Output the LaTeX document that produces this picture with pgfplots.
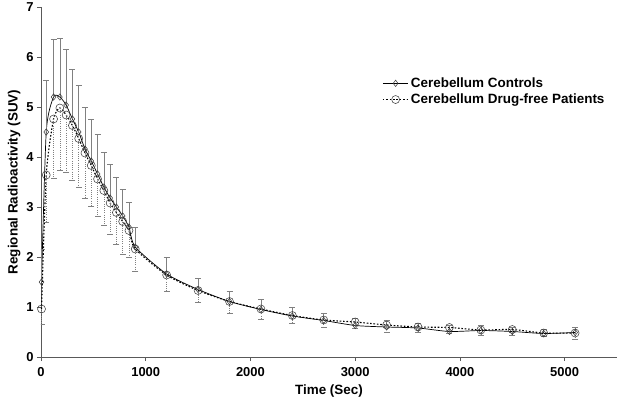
\documentclass[border=0pt]{standalone}
\usepackage{fontspec}
\setmainfont{Liberation Sans}
\usepackage{pgfplots}
\usepackage{pgfplotstable}
\pgfplotsset{compat=1.18}
\pgfplotstableread{
t y e
5 1.50 0.65
50 4.50 1.03
120 5.20 1.15
180 5.20 1.17
240 5.04 1.11
300 4.76 0.99
360 4.50 0.93
420 4.16 0.84
480 3.92 0.83
540 3.66 0.79
600 3.40 0.69
660 3.18 0.67
720 3.00 0.59
780 2.82 0.53
840 2.60 0.50
900 2.20 0.40
1200 1.66 0.33
1500 1.35 0.22
1800 1.11 0.20
2100 0.95 0.20
2400 0.82 0.17
2700 0.73 0.14
3000 0.63 0.14
3300 0.60 0.13
3600 0.58 0.10
3900 0.51 0.13
4200 0.53 0.10
4500 0.51 0.09
4800 0.47 0.09
5100 0.49 0.10
}\controls
\pgfplotstableread{
t y e
5 0.96 0.30
50 3.64 0.94
120 4.76 1.18
180 4.98 1.25
240 4.84 1.14
300 4.63 1.10
360 4.37 0.98
420 4.08 0.90
480 3.83 0.82
540 3.56 0.75
600 3.33 0.70
660 3.08 0.62
720 2.89 0.63
780 2.71 0.65
840 2.53 0.54
900 2.16 0.45
1200 1.64 0.33
1500 1.33 0.24
1800 1.11 0.23
2100 0.96 0.20
2400 0.83 0.15
2700 0.74 0.15
3000 0.70 0.13
3300 0.64 0.15
3600 0.60 0.11
3900 0.59 0.11
4200 0.54 0.11
4500 0.55 0.11
4800 0.48 0.07
5100 0.48 0.12
}\patients
\begin{document}
\begin{tikzpicture}
\useasboundingbox (-41bp,-45bp) rectangle (578bp,357bp);
\begin{axis}[
  scale only axis,
  width=576bp, height=350bp,
  xmin=0, xmax=5500, ymin=0, ymax=7,
  axis x line=bottom, axis y line=left,
  axis line style={-, gray!70!black, line width=0.8pt},
  tick style={gray!70!black, line width=0.8pt},
  tick align=outside,
  major tick length=4bp,
  xtick={0,1000,2000,3000,4000,5000},
  ytick={0,1,2,3,4,5,6,7},
  scaled x ticks=false,
  /pgf/number format/assume math mode=true,
  /pgf/number format/set thousands separator={},
  ticklabel style={font=\fontsize{13}{15}\selectfont\bfseries},
  xticklabel style={yshift=-3bp},
  xlabel={Time (Sec)},
  ylabel={Regional Radioactivity (SUV)},
  label style={font=\fontsize{13.5}{15}\selectfont\bfseries},
  xlabel style={yshift=-1bp},
  ylabel style={yshift=-1bp},
  legend style={draw=none, fill=none, at={(0.587,0.81)}, anchor=north west,
    font=\fontsize{13.5}{16}\selectfont\bfseries, row sep=1bp,
    legend cell align=left},
  legend image code/.code={\draw[mark repeat=2,mark phase=2,#1] plot coordinates {(0cm,0cm) (0.45cm,0cm) (0.9cm,0cm)};},
]
\addplot[black, line width=0.7pt, smooth, tension=0.4,
  mark=diamond, mark size=3.2bp, mark options={solid, fill=white, draw=black!80, line width=0.5pt},
  error bars/.cd, y dir=plus, y explicit,
  error bar style={gray, line width=0.6pt, solid},
  error mark options={gray, line width=0.6pt, mark size=3bp, rotate=90}]
  table[x=t, y=y, y error plus=e] {\controls};
\addlegendentry{Cerebellum Controls}
\addplot[black, line width=1.1pt, dash pattern=on 1.6pt off 1.8pt, smooth, tension=0.4,
  mark=o, mark size=4bp, mark options={solid, fill=none, draw=black!75, line width=0.55pt},
  error bars/.cd, y dir=minus, y explicit,
  error bar style={gray, line width=0.6pt, dash pattern=on 1pt off 1.2pt},
  error mark options={gray, line width=0.6pt, mark size=3bp, rotate=90, solid}]
  table[x=t, y=y, y error minus=e] {\patients};
\addlegendentry{Cerebellum Drug-free Patients}
\end{axis}
\end{tikzpicture}
\end{document}
